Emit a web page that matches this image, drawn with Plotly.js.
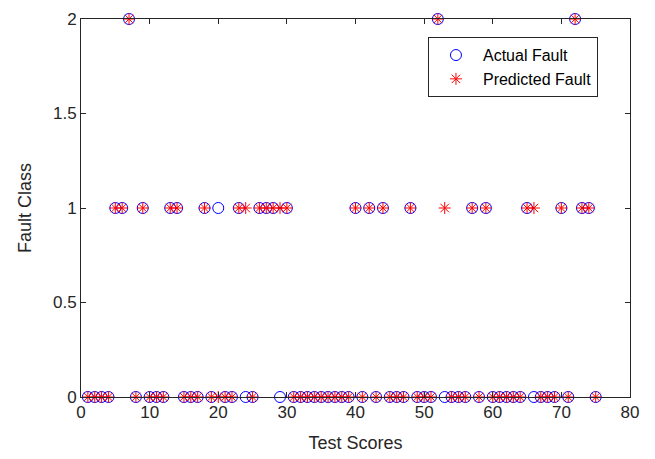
<!DOCTYPE html>
<html>
<head>
<meta charset="utf-8">
<script src="https://cdn.plot.ly/plotly-3.0.1.min.js"></script>
<style>html,body{margin:0;padding:0;background:#fff;}#chart{width:655px;height:459px;}</style>
</head>
<body>
<div id="chart"></div>
<script>
// Sample index (test scores) 1..75
const testScores = [1,2,3,4,5,6,7,8,9,10,11,12,13,14,15,16,17,18,19,20,21,22,23,24,25,26,27,28,29,30,31,32,33,34,35,36,37,38,39,40,41,42,43,44,45,46,47,48,49,50,51,52,53,54,55,56,57,58,59,60,61,62,63,64,65,66,67,68,69,70,71,72,73,74,75];
const actualFault = [0,0,0,0,1,1,2,0,1,0,0,0,1,1,0,0,0,1,0,1,0,0,1,0,0,1,1,1,0,1,0,0,0,0,0,0,0,0,0,1,0,1,0,1,0,0,0,1,0,0,0,2,0,0,0,0,1,0,1,0,0,0,0,0,1,0,0,0,0,1,0,2,1,1,0];
const predictedFault = [0,0,0,0,1,1,2,0,1,0,0,0,1,1,0,0,0,1,0,0,0,0,1,1,0,1,1,1,1,1,0,0,0,0,0,0,0,0,0,1,0,1,0,1,0,0,0,1,0,0,0,2,1,0,0,0,1,0,1,0,0,0,0,0,1,1,0,0,0,1,0,2,1,1,0];
const seriesNames = ['Actual Fault', 'Predicted Fault'];
const xTicks = [0,10,20,30,40,50,60,70,80];
const yTicks = [0,0.5,1,1.5,2];
const yTickText = ['0','0.5','1','1.5','2'];

const axisColor = '#262626';
const data = [
  {x: testScores, y: actualFault, name: seriesNames[0], type: 'scatter', mode: 'markers', cliponaxis: false,
   marker: {symbol: 'circle-open', size: 11, color: '#0000ff', line: {width: 1, color: '#0000ff'}}},
  {x: testScores, y: predictedFault, name: seriesNames[1], type: 'scatter', mode: 'markers', cliponaxis: false,
   marker: {symbol: 'asterisk-open', size: 10, color: '#ff0000', line: {width: 1, color: '#ff0000'}}}
];
const layout = {
  width: 655, height: 459,
  margin: {l: 81, r: 25, t: 19, b: 62},
  paper_bgcolor: '#ffffff', plot_bgcolor: '#ffffff',
  font: {family: 'Liberation Sans, Arial, sans-serif', color: axisColor, size: 17},
  showlegend: true,
  legend: {x: 0.632, y: 0.952, xanchor: 'left', yanchor: 'top', bgcolor: '#ffffff',
           bordercolor: axisColor, borderwidth: 1, font: {size: 16, color: '#000'},
           tracegroupgap: 0, itemwidth: 44, entrywidth: 182},
  xaxis: {range: [0, 80], tickvals: xTicks, ticks: 'inside', ticklen: 5, tickcolor: axisColor,
          showline: true, linecolor: axisColor, linewidth: 1, mirror: 'ticks', showgrid: false, zeroline: false,
          tickfont: {size: 17, color: axisColor},
          title: {text: 'Test Scores', font: {size: 18, color: axisColor}, standoff: 14}},
  yaxis: {range: [0, 2], tickvals: yTicks, ticktext: yTickText, ticks: 'inside', ticklen: 5, tickcolor: axisColor,
          showline: true, linecolor: axisColor, linewidth: 1, mirror: 'ticks', showgrid: false, zeroline: false,
          tickfont: {size: 17, color: axisColor},
          title: {text: 'Fault Class', font: {size: 18, color: axisColor}, standoff: 16}}
};
Plotly.newPlot('chart', data, layout, {displayModeBar: false, staticPlot: true});
</script>
</body>
</html>
